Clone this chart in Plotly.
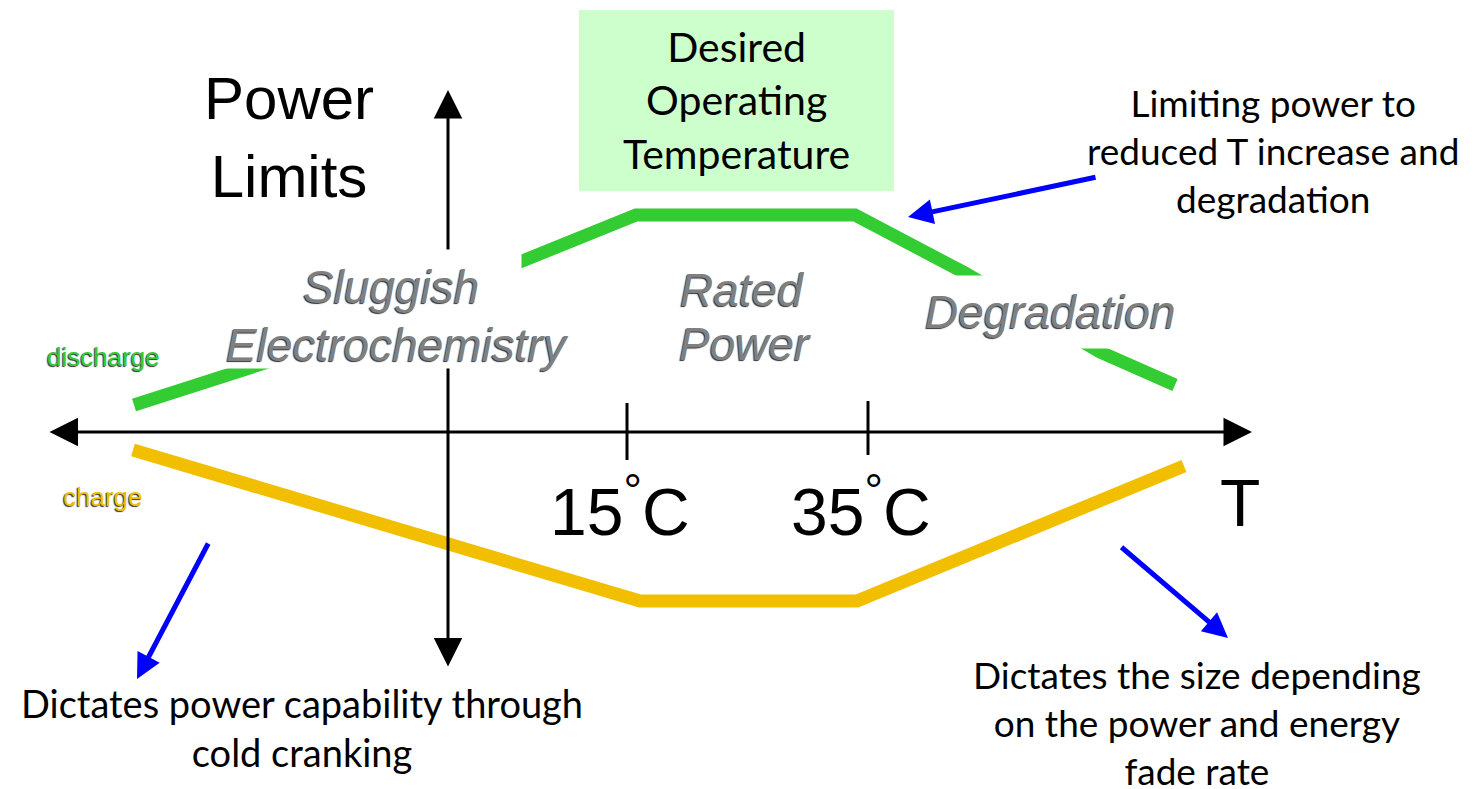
import plotly.graph_objects as go

# ---- data (diagram coordinates: x = temperature position, y = power position, y grows downward)
discharge_T = [134, 290, 636, 855, 965, 1100, 1175]
discharge_P = [405, 355, 215, 215, 273, 352, 385]
charge_T = [133, 640, 857, 1184]
charge_P = [450, 601, 601, 466]
tick_T = [627, 868]
tick_top = [403, 401]
tick_bottom = [460, 455]
tick_labels = ["15<sup>°</sup>C", "35<sup>°</sup>C"]

W, H = 1476, 789
GREEN = "#33CC33"
GOLD = "#F2BF00"
BLUE = "#0000FF"
GRAY = "#808080"
ARIAL = "Liberation Sans, Arial, sans-serif"
CAL = "Lato, Open Sans, sans-serif"

fig = go.Figure()
fig.add_trace(go.Scatter(x=discharge_T, y=discharge_P, mode="lines",
                         line=dict(color=GREEN, width=13), hoverinfo="skip"))
fig.add_trace(go.Scatter(x=charge_T, y=charge_P, mode="lines",
                         line=dict(color=GOLD, width=13), hoverinfo="skip"))

shapes = []
# desired operating temperature box
shapes.append(dict(type="rect", x0=579, x1=894, y0=10, y1=191, xref="x", yref="y",
                   fillcolor="#CCFFCC", line=dict(width=0), layer="below"))
for t, a, b in zip(tick_T, tick_top, tick_bottom):
    shapes.append(dict(type="line", x0=t, x1=t, y0=a, y1=b, xref="x", yref="y",
                       line=dict(color="black", width=3)))

ann = []
# axes with arrowheads on both ends
ann.append(dict(x=1252, y=432, ax=48, ay=432, xref="x", yref="y", axref="x", ayref="y",
                text="", showarrow=True, arrowside="end+start", arrowhead=2, startarrowhead=2,
                arrowsize=1.9, startarrowsize=1.9, arrowwidth=3, arrowcolor="black"))
ann.append(dict(x=448, y=90, ax=448, ay=668, xref="x", yref="y", axref="x", ayref="y",
                text="", showarrow=True, arrowside="end+start", arrowhead=2, startarrowhead=2,
                arrowsize=1.9, startarrowsize=1.9, arrowwidth=3, arrowcolor="black"))

# blue arrows
for (tx, ty, hx, hy) in [(1097, 177, 908, 217), (209, 542, 137, 679), (1120, 546, 1228, 638)]:
    ann.append(dict(x=hx, y=hy, ax=tx, ay=ty, xref="x", yref="y", axref="x", ayref="y",
                    text="", showarrow=True, arrowhead=2, arrowsize=1.0, arrowwidth=5,
                    arrowcolor=BLUE))

# white text-frame backgrounds that hide the lines behind the region labels
for (cx, cy, bw, bh) in [(391, 286, 260, 72), (395, 344, 366, 48), (1048, 312, 285, 72)]:
    ann.append(dict(x=cx, y=cy, text=" ", showarrow=False, bgcolor="white",
                    width=bw, height=bh, borderpad=0, font=dict(size=10)))

italic = dict(family=ARIAL, size=46, color=GRAY, style="italic",
              shadow="-1px 1px 1px #333333")
ann.append(dict(x=391, y=287, text="Sluggish", showarrow=False, font=italic))
ann.append(dict(x=397, y=345, text="Electrochemistry", showarrow=False, font=italic))
ann.append(dict(x=742, y=290, text="Rated", showarrow=False, font=italic))
ann.append(dict(x=745, y=344, text="Power", showarrow=False, font=italic))
ann.append(dict(x=1050, y=312, text="Degradation", showarrow=False, font=italic))

# tick labels
for t, lab in zip(tick_T, tick_labels):
    ann.append(dict(x=t, y=507, xshift=-7, text=lab, showarrow=False,
                    font=dict(family=ARIAL, size=66, color="black")))
ann.append(dict(x=1240, y=503, text="T", showarrow=False,
                font=dict(family=ARIAL, size=66, color="black")))

ann.append(dict(x=289, y=137, text="Power<br>Limits", showarrow=False,
                font=dict(family=ARIAL, size=60, color="black")))

ann.append(dict(x=103, y=357, text="discharge", showarrow=False,
                font=dict(family=ARIAL, size=26, color=GREEN, shadow="-1px 1px 1px #333333")))
ann.append(dict(x=103, y=497, text="charge", showarrow=False,
                font=dict(family=ARIAL, size=26, color=GOLD, shadow="-1px 1px 1px #333333")))

ann.append(dict(x=736, y=100, text="Desired<br>Operating<br>Temperature", showarrow=False,
                font=dict(family=CAL, size=41, color="black")))
ann.append(dict(x=1273, y=150, text="Limiting power to<br>reduced T increase and<br>degradation",
                showarrow=False, font=dict(family=CAL, size=37, color="black")))
ann.append(dict(x=302, y=727, text="Dictates power capability through<br>cold cranking",
                showarrow=False, font=dict(family=CAL, size=38, color="black")))
ann.append(dict(x=1197, y=722, text="Dictates the size depending<br>on the power and energy<br>fade rate",
                showarrow=False, borderpad=0, font=dict(family=CAL, size=37, color="black")))

for a in ann:
    a.setdefault("xref", "x")
    a.setdefault("yref", "y")

fig.update_layout(
    width=W, height=H, margin=dict(l=0, r=0, t=0, b=0),
    paper_bgcolor="white", plot_bgcolor="white", showlegend=False,
    xaxis=dict(range=[0, W], visible=False, fixedrange=True),
    yaxis=dict(range=[H, 0], visible=False, fixedrange=True),
    shapes=shapes, annotations=ann,
)

fig.write_html("out.html", post_script="document.body.style.margin='0px';",
               config={"displayModeBar": False})
